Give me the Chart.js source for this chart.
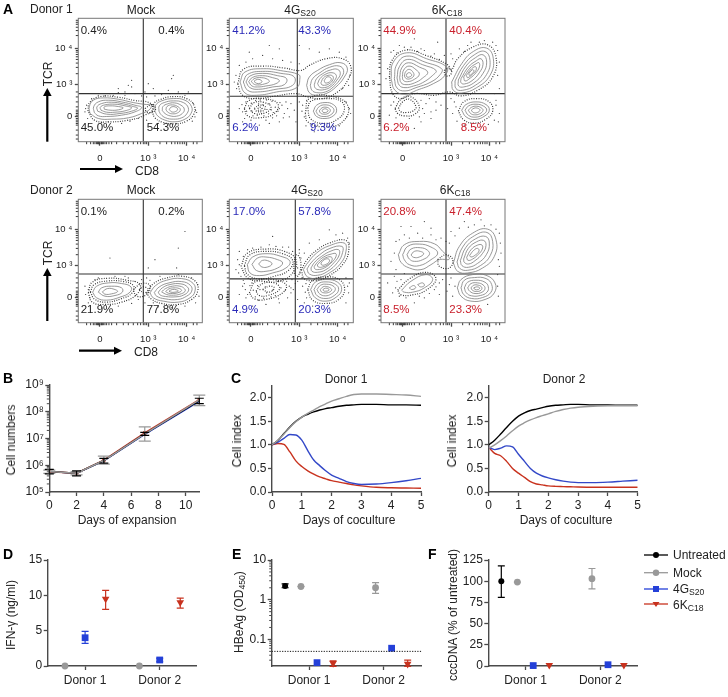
<!DOCTYPE html>
<html>
<head>
<meta charset="utf-8">
<style>
  body { margin: 0; background: #fff; }
  #page { position: relative; width: 728px; height: 697px; overflow: hidden; font-family: "Liberation Sans", Arial, sans-serif; color: #222; }
  #page canvas { position: absolute; }
  #page svg { position: absolute; left: 0; top: 0; }
  .t { position: absolute; white-space: nowrap; line-height: 1; }
  .t sub { font-size: 0.72em; vertical-align: -0.25em; line-height: 0; }
</style>
<script src="https://cdn.jsdelivr.net/npm/chart.js@4/dist/chart.umd.min.js"></script>
</head>
<body>
<div id="page"></div>
<script>
// ---------------------------
// DATA : panel B
// ---------------------------
const expansionDays = [0, 2, 4, 7, 11];
const expUntreated = [5.8e5, 5e5, 1.5e6, 1.5e7, 2.6e8];
const expMock = [5.8e5, 5e5, 1.5e6, 1.5e7, 2.8e8];
const exp4G = [5.8e5, 5e5, 1.45e6, 1.4e7, 2.4e8];
const exp6K = [5.8e5, 5e5, 1.55e6, 1.6e7, 2.8e8];
const expUntreatedLo = [4.8e5, 4e5, 1.2e6, 1.3e7, 2e8];
const expUntreatedHi = [7e5, 6.2e5, 1.8e6, 1.7e7, 3.2e8];
const expMockLo = [5e5, 4.4e5, 1.1e6, 8e6, 1.7e8];
const expMockHi = [6.6e5, 5.8e5, 2.2e6, 2.7e7, 4.2e8];
const expTickValues = [1e5, 1e6, 1e7, 1e8, 1e9];
const expTickLabels = ["10⁵", "10⁶", "10⁷", "10⁸", "10⁹"];
const logSteps = [2, 3, 4, 5, 6, 7, 8, 9];

// ---------------------------
// DATA : panel C
// ---------------------------
const cocultureDays = [0, .2, .4, .6, .8, 1, 1.2, 1.4, 1.6, 1.8, 2, 2.25, 2.5, 2.75, 3, 3.5, 4, 4.5, 5];
const d1Untreated = [1.0, 1.10, 1.24, 1.38, 1.50, 1.59, 1.65, 1.70, 1.74, 1.77, 1.79, 1.82, 1.84, 1.85, 1.86, 1.86, 1.85, 1.85, 1.84];
const d1Mock = [1.0, 1.10, 1.23, 1.37, 1.49, 1.59, 1.67, 1.74, 1.81, 1.87, 1.93, 1.98, 2.03, 2.07, 2.08, 2.08, 2.07, 2.06, 2.03];
const d14G = [1.0, 1.06, 1.14, 1.22, 1.21, 1.10, .88, .68, .56, .45, .36, .29, .22, .18, .16, .17, .20, .24, .29];
const d16K = [1.0, 1.03, 1.01, .85, .66, .54, .45, .38, .32, .28, .24, .21, .18, .15, .13, .10, .09, .085, .08];
const d2Untreated = [1.0, 1.10, 1.23, 1.37, 1.50, 1.61, 1.68, 1.73, 1.76, 1.79, 1.82, 1.84, 1.85, 1.86, 1.86, 1.85, 1.85, 1.84, 1.84];
const d2Mock = [.93, 1.00, 1.09, 1.19, 1.30, 1.40, 1.47, 1.53, 1.58, 1.62, 1.66, 1.71, 1.75, 1.78, 1.80, 1.82, 1.83, 1.83, 1.83];
const d24G = [.95, .90, .93, .98, .96, .80, .65, .50, .40, .34, .30, .26, .23, .21, .20, .20, .21, .23, .25];
const d26K = [.95, .82, .77, .65, .50, .40, .31, .22, .17, .15, .13, .12, .115, .11, .105, .10, .10, .10, .10];

// ---------------------------
// DATA : panels D, E, F
// ---------------------------
const donorTicks = [1.84, 5.51];
const donorLabels = ["Donor 1", "Donor 2"];

const ifnMockX = [.85, 4.51];
const ifn4GX = [1.84, 5.51];
const ifn6KX = [2.85, 6.52];
const ifnMock = [0, 0];
const ifn4G = [4.0, .85];
const ifn4GLo = [3.2, .6];
const ifn4GHi = [4.9, 1.1];
const ifn6K = [9.5, 9.0];
const ifn6KLo = [8.0, 8.2];
const ifn6KHi = [10.7, 9.6];

const hbeUntreatedX = [.66];
const hbeMockX = [1.44, 5.11];
const hbe4GX = [2.23, 5.9];
const hbe6KX = [3.02, 6.69];
const hbeUntreated = [2.2];
const hbeUntreatedLo = [2.0];
const hbeUntreatedHi = [2.5];
const hbeMock = [2.15, 2.0];
const hbeMockLo = [2.15, 1.45];
const hbeMockHi = [2.15, 2.7];
const hbe4G = [.026, .06];
const hbe6K = [.025, .024];
const hbe6KLo = [.021, .021];
const hbe6KHi = [.029, .030];
const hbeCutoff = .05;
const hbeTicks = [.1, 1, 10];
const hbeLabels = ["0.1", "1", "10"];
const hbeMinor = [.03, .04, .05, .06, .07, .08, .09, .2, .3, .4, .5, .6, .7, .8, .9, 2, 3, 4, 5, 6, 7, 8, 9];

const cccUntreatedX = [.64];
const cccMockX = [1.43, 5.1];
const ccc4GX = [2.21, 5.89];
const ccc6KX = [3.0, 6.67];
const cccUntreated = [100];
const cccUntreatedLo = [81];
const cccUntreatedHi = [118];
const cccMock = [99, 103];
const cccMockLo = [99, 91];
const cccMockHi = [99, 115];
const ccc4G = [.5, 1.5];
const ccc6K = [1, 1];

// ---------------------------
// DATA : panel A (flow plots, in channel units 0-372)
// ---------------------------
const flowXMinor = [25, 37, 45, 50, 55, 58, 60, 62, 68, 70, 72, 75, 80, 85, 92, 100, 115, 135, 150, 165, 178, 187, 195, 200, 205, 245, 265, 280, 290, 298, 305, 312, 318, 345, 356];
const flowYMinor = [8, 20, 35, 50, 55, 60, 65, 70, 80, 85, 90, 95, 105, 120, 135, 150, 205, 224, 237, 248, 256, 263, 270, 275, 320, 335, 345, 354, 360, 366];
const flowXTicks = [65, 210, 325];
const flowYTicks = [75, 173, 280];
const flowTickLabels = ["0", "10 ³", "10 ⁴"];

const mock1Gate = [195, 145];
const mock1Contours = [
  [35,85, 33,105, 45,125, 75,132, 120,128, 165,118, 205,112, 218,112, 215,98, 190,85, 150,72, 100,68, 60,70],
  [48,88, 46,105, 60,120, 90,125, 130,120, 170,110, 190,103, 170,90, 130,80, 85,76, 60,78],
  [58,92, 56,105, 70,115, 100,119, 135,114, 165,106, 178,101, 160,92, 125,85, 85,83],
  [68,95, 66,104, 80,111, 110,113, 140,108, 160,102, 140,93, 110,89, 85,89],
  [78,98, 78,105, 95,108, 120,106, 135,102, 120,96, 95,95],
  [230,92, 232,110, 250,123, 285,130, 320,125, 340,105, 338,85, 320,68, 290,60, 260,65, 238,78],
  [242,92, 243,108, 258,118, 285,123, 315,118, 330,102, 326,85, 310,72, 285,68, 262,72, 248,82],
  [252,94, 254,106, 268,114, 288,117, 308,110, 318,98, 312,85, 295,77, 275,78, 260,85],
  [263,96, 266,106, 282,111, 300,105, 306,96, 298,87, 283,84, 270,88],
  [273,97, 278,104, 290,105, 298,98, 292,91, 280,90]
];
const mock1Bands = [
  [29,92, 34,118, 65,136, 120,134, 170,124, 212,118, 226,100, 195,78, 145,64, 95,60, 50,64],
  [222,90, 226,114, 248,128, 285,136, 325,130, 348,108, 346,82, 325,62, 290,54, 255,58, 230,72],
  [200,100, 222,112, 232,100, 222,88, 205,90]
];
const mock1Dots = [140,150, 160,165, 120,148, 150,170, 170,145, 200,150, 210,175, 225,160, 280,190, 285,200, 270,155, 300,150, 320,140, 345,115, 352,95, 350,75, 20,90, 25,110, 28,70, 90,60, 130,55, 180,70, 205,65, 240,55, 300,50, 275,145, 160,185, 120,160, 60,140, 95,145, 40,130, 330,150, 190,138, 205,135, 230,138, 250,142, 105,140, 80,138, 140,140, 355,88, 342,62, 22,100, 70,58, 155,62];

const g41Gate = [204, 137];
const g41Contours = [
  [32,180, 47,210, 102,220, 162,213, 207,203, 212,193, 202,163, 142,150, 82,140, 47,147],
  [42,180, 55,203, 100,212, 155,206, 195,195, 190,170, 140,158, 85,150, 55,155],
  [50,180, 62,198, 100,206, 145,199, 172,190, 165,172, 130,165, 88,158, 62,163],
  [58,181, 70,194, 100,199, 130,193, 150,185, 140,175, 110,168, 85,165, 68,168],
  [66,182, 77,191, 97,193, 115,188, 120,181, 105,174, 85,171, 73,174],
  [74,182, 84,188, 94,186, 98,181, 92,176, 82,176],
  [232,170, 240,195, 265,215, 300,232, 335,238, 354,222, 345,195, 320,165, 290,145, 260,140, 240,148],
  [243,170, 250,190, 272,208, 300,224, 330,228, 343,214, 335,192, 312,165, 288,150, 262,148, 248,155],
  [255,172, 262,190, 280,205, 303,216, 325,218, 333,205, 323,186, 305,166, 285,157, 266,157, 257,163],
  [265,175, 272,190, 288,203, 308,208, 321,200, 316,185, 302,170, 285,163, 271,165],
  [275,178, 282,192, 296,200, 310,198, 311,187, 300,175, 286,170, 277,172],
  [285,185, 293,195, 304,193, 305,185, 296,178, 287,178],
  [252,92, 262,110, 287,118, 312,112, 322,95, 312,78, 287,70, 262,76],
  [260,92, 270,106, 287,111, 306,106, 314,94, 304,81, 287,76, 268,80],
  [270,93, 278,102, 290,104, 300,100, 303,93, 296,85, 284,83, 274,86],
  [278,94, 285,99, 294,97, 296,92, 288,88, 281,89]
];
const g41Bands = [
  [25,175, 42,218, 100,228, 165,222, 215,215, 240,230, 290,250, 340,250, 365,225, 355,185, 325,150, 280,130, 235,135, 200,145, 140,138, 80,130, 40,140],
  [45,100, 60,125, 100,130, 145,115, 135,85, 90,72, 55,78],
  [60,100, 75,118, 105,118, 125,105, 110,88, 75,85],
  [75,100, 90,110, 108,105, 100,92, 82,92],
  [85,100, 95,104, 98,97, 88,95],
  [235,100, 245,122, 290,130, 335,122, 345,95, 325,68, 285,55, 245,68],
  [228,85, 240,130, 300,138, 355,110, 340,60, 280,45, 235,60]
];
const g41Dots = [20,200, 22,160, 30,230, 15,180, 50,240, 70,250, 100,260, 130,250, 160,245, 185,240, 210,235, 60,270, 120,290, 210,290, 240,280, 270,270, 300,280, 330,270, 350,255, 362,200, 358,170, 340,160, 150,100, 165,85, 170,120, 180,75, 40,60, 30,100, 120,55, 90,50, 60,45, 200,60, 220,110, 225,75, 360,100, 352,75, 300,35, 255,30, 150,280, 50,120, 150,60,
  52,92, 58,108, 66,116, 68,92, 71,78, 79,124, 84,80, 88,114, 93,126, 97,85, 101,112, 104,78, 112,126, 113,97, 118,84, 120,114, 126,96, 128,122, 132,88, 138,104, 142,78, 146,92, 152,118, 158,110, 162,72, 40,90, 38,112, 46,70, 65,65, 110,65, 130,72, 175,100, 185,115, 195,95, 210,120, 218,92, 232,125, 230,48, 248,38, 265,50, 310,50, 330,48, 350,120, 364,85];

const k61Gate = [195, 145];
const k61Contours = [
  [30,190, 37,240, 77,268, 137,250, 197,225, 192,200, 157,175, 107,155, 72,143, 42,155],
  [40,190, 47,232, 77,258, 132,240, 182,220, 178,203, 150,180, 105,163, 72,153, 48,162],
  [48,192, 55,226, 80,248, 125,232, 165,215, 155,200, 125,178, 98,168, 72,163, 55,170],
  [56,194, 62,222, 82,238, 115,225, 140,210, 125,192, 100,177, 75,172, 60,178],
  [64,196, 68,216, 84,228, 105,217, 115,203, 100,188, 80,181, 67,185],
  [70,198, 74,211, 85,218, 97,208, 98,198, 88,190, 76,190],
  [76,200, 80,207, 88,207, 92,200, 85,195, 78,195],
  [212,180, 242,235, 277,272, 317,282, 337,250, 327,200, 287,163, 242,147, 217,155],
  [222,183, 248,230, 280,262, 312,272, 327,245, 317,203, 283,170, 245,155, 225,160],
  [232,186, 255,228, 283,253, 306,262, 317,240, 306,206, 278,177, 248,165, 233,168],
  [240,190, 262,225, 286,244, 300,250, 306,233, 295,208, 273,184, 250,174, 240,178],
  [248,195, 267,222, 285,235, 294,238, 295,225, 284,207, 268,192, 252,183],
  [256,200, 272,220, 284,226, 285,215, 274,203, 260,193],
  [264,206, 274,217, 279,213, 272,204, 265,200],
  [242,95, 255,112, 285,120, 315,112, 325,95, 312,78, 282,67, 255,75],
  [252,95, 263,108, 285,113, 308,107, 317,95, 305,81, 282,74, 262,80],
  [262,95, 272,104, 287,107, 301,102, 306,94, 296,84, 280,81, 269,85],
  [271,95, 279,101, 290,101, 297,95, 289,88, 277,88]
];
const k61Bands = [
  [25,195, 33,245, 75,276, 135,260, 200,232, 210,215, 230,250, 275,285, 320,292, 345,255, 335,195, 290,155, 240,138, 205,150, 160,140, 100,145, 60,130, 35,145],
  [52,100, 65,120, 85,128, 105,105, 95,92, 75,88, 60,90],
  [42,100, 60,128, 88,136, 115,105, 100,82, 70,78, 50,85],
  [232,92, 248,120, 285,130, 325,120, 335,92, 315,68, 280,56, 248,66],
  [190,215, 205,222, 212,210, 203,198, 192,202]
];
const k61Dots = [20,220, 15,190, 30,270, 55,290, 90,285, 130,275, 160,265, 190,260, 210,265, 235,280, 270,300, 310,305, 345,290, 355,240, 350,200, 355,160, 340,145, 125,100, 135,115, 150,90, 165,120, 30,110, 25,80, 120,60, 150,70, 60,55, 100,40, 200,100, 215,85, 220,120, 345,110, 355,85, 340,65, 300,45, 250,50, 170,300, 100,310,
  38,275, 48,268, 70,285, 80,278, 110,272, 120,280, 150,258, 175,248, 215,250, 250,272, 260,290, 295,300, 335,300, 350,275, 120,125, 145,130, 130,85, 115,75, 38,120, 45,72, 85,70, 165,95, 180,110, 210,130, 225,105, 345,125, 352,60, 322,52, 285,42, 228,62];

const mock2Gate = [195, 147];
const mock2Contours = [
  [43,92, 55,110, 90,120, 130,118, 158,108, 155,92, 125,77, 85,68, 55,75],
  [60,92, 70,105, 100,110, 130,105, 132,92, 110,82, 80,80],
  [72,93, 88,103, 110,100, 118,94, 100,87, 80,86],
  [215,90, 232,112, 265,128, 310,133, 345,118, 350,95, 335,75, 300,62, 255,65, 225,75],
  [228,91, 243,108, 272,120, 310,124, 337,112, 340,95, 325,80, 298,70, 260,72, 235,80],
  [240,92, 252,105, 275,115, 308,117, 328,107, 330,95, 315,83, 293,78, 262,79, 245,84],
  [250,93, 262,103, 282,110, 305,110, 319,102, 320,94, 305,86, 285,83, 265,85],
  [262,94, 272,102, 287,105, 303,103, 310,97, 298,90, 282,88, 270,89],
  [272,95, 282,100, 295,99, 300,95, 290,92, 278,92]
];
const mock2Bands = [
  [36,92, 48,115, 90,126, 135,124, 165,112, 162,90, 128,72, 85,62, 50,70],
  [30,90, 42,122, 90,134, 145,128, 185,115, 175,85, 130,62, 80,55, 42,62],
  [205,90, 226,118, 262,134, 312,140, 352,124, 358,95, 340,70, 300,55, 250,58, 218,72],
  [165,100, 190,118, 215,112, 205,85, 175,80],
  [182,100, 196,108, 210,100, 198,90]
];
const mock2Dots = [30,100, 22,85, 20,110, 50,130, 110,140, 150,135, 190,130, 245,140, 300,145, 340,135, 358,115, 362,80, 352,60, 320,50, 280,45, 240,48, 200,60, 160,58, 120,50, 70,45, 30,60, 95,195, 210,165, 230,190, 295,165, 320,275, 300,225, 170,125, 180,70, 205,135, 215,128, 225,60, 60,135, 35,75, 140,140];

const g42Gate = [198, 132];
const g42Contours = [
  [54,175, 70,198, 110,208, 155,200, 182,185, 170,165, 130,150, 90,142, 62,150],
  [68,176, 85,195, 110,198, 145,190, 160,180, 145,165, 110,155, 82,157],
  [88,177, 100,188, 120,185, 128,177, 115,168, 98,168],
  [222,160, 235,180, 262,210, 300,232, 345,240, 350,215, 335,180, 300,150, 265,135, 235,138],
  [233,162, 245,180, 270,204, 302,224, 338,230, 340,212, 325,182, 295,155, 265,143, 240,147],
  [245,165, 256,182, 277,200, 305,216, 328,220, 330,205, 315,182, 290,160, 265,152, 248,155],
  [255,170, 266,184, 283,198, 306,207, 320,208, 318,195, 305,180, 285,165, 265,160, 256,163],
  [264,174, 275,186, 290,196, 306,198, 308,188, 297,176, 280,168, 267,168],
  [275,180, 285,190, 298,192, 300,184, 288,175, 277,174],
  [244,100, 258,122, 290,130, 325,122, 337,100, 322,78, 290,65, 258,75],
  [254,100, 266,117, 290,123, 318,116, 328,100, 315,82, 290,73, 264,81],
  [263,100, 274,113, 291,116, 311,111, 318,100, 306,87, 288,81, 271,87],
  [273,100, 281,108, 292,109, 304,104, 307,98, 297,91, 284,90, 276,93],
  [281,100, 288,104, 298,102, 298,97, 289,95, 283,96]
];
const g42Bands = [
  [35,170, 55,210, 110,222, 165,215, 200,190, 190,150, 150,125, 100,125, 55,135],
  [45,172, 62,205, 110,215, 160,208, 190,188, 178,158, 135,140, 90,132, 55,145],
  [60,90, 80,125, 130,130, 170,115, 160,90, 110,70, 75,72],
  [80,95, 100,118, 140,118, 150,100, 115,82, 90,82],
  [100,100, 120,110, 135,105, 120,92],
  [195,190, 205,205, 215,175, 205,140, 195,150],
  [235,100, 250,128, 290,138, 330,130, 346,100, 328,70, 290,58, 250,68],
  [216,158, 232,188, 262,218, 300,240, 350,248, 358,215, 340,175, 300,142, 262,128, 226,132]
];
const g42Dots = [25,190, 20,160, 30,215, 35,140, 70,225, 120,235, 160,228, 190,215, 210,220, 225,210, 40,110, 50,75, 30,85, 70,50, 110,55, 150,60, 185,90, 205,70, 220,110, 225,60, 360,120, 358,90, 350,60, 300,45, 250,50, 360,240, 355,255, 320,265, 270,250, 240,240, 300,280, 340,270, 130,260, 185,105, 175,75,
  30,175, 28,150, 42,128, 45,118, 48,100, 55,85, 62,112, 68,120, 72,98, 78,78, 85,112, 88,68, 92,100, 98,130, 103,74, 108,108, 112,90, 118,128, 125,78, 130,98, 138,82, 145,125, 148,72, 155,105, 160,130, 168,98, 172,125, 180,110, 188,130, 192,100, 198,118, 205,125, 212,150, 218,135, 205,165, 215,195, 210,210, 178,228, 140,230, 95,228, 55,220, 42,200, 228,92, 232,75, 230,118, 350,135, 355,110];

const k62Gate = [195, 147];
const k62Contours = [
  [52,205, 70,235, 115,245, 160,238, 185,215, 205,192, 175,190, 150,175, 120,160, 85,165, 60,182],
  [65,205, 80,230, 115,237, 150,228, 170,210, 150,190, 115,172, 85,175, 70,190],
  [78,205, 90,222, 118,226, 140,218, 145,205, 125,190, 100,185, 85,192],
  [90,204, 100,215, 118,215, 128,208, 115,198, 98,197],
  [217,180, 235,230, 275,270, 320,282, 345,250, 340,200, 305,165, 260,150, 230,155],
  [228,183, 245,228, 280,262, 318,272, 335,245, 328,203, 298,172, 260,158, 236,164],
  [238,187, 254,226, 284,253, 314,260, 325,240, 316,205, 290,179, 262,167, 243,172],
  [248,192, 262,224, 287,244, 308,248, 315,233, 304,208, 282,187, 263,177, 250,182],
  [257,197, 270,220, 290,234, 303,234, 304,222, 292,206, 275,192, 261,188],
  [266,203, 278,218, 290,224, 294,216, 283,204, 270,198],
  [229,105, 240,130, 275,145, 315,143, 342,120, 340,90, 312,70, 270,65, 240,80],
  [240,105, 250,128, 280,136, 315,133, 332,115, 330,92, 305,76, 272,73, 248,85],
  [250,105, 260,122, 285,128, 312,122, 322,108, 318,92, 298,82, 272,81, 256,90],
  [260,105, 270,118, 290,120, 306,114, 312,103, 303,92, 282,88, 266,95],
  [270,105, 278,113, 292,113, 302,107, 300,98, 286,94, 274,98],
  [278,105, 287,108, 296,105, 292,100, 282,100],
  [62,98, 90,125, 135,145, 155,130, 130,105, 95,92, 70,92],
  [110,115, 125,120, 130,112, 118,108],
  [85,105, 98,112, 104,105, 92,100]
];
const k62Bands = [
  [50,98, 85,132, 135,152, 165,132, 135,98, 95,84, 60,84],
  [170,190, 195,205, 215,190, 205,165, 175,170]
];
const k62Dots = [40,210, 30,185, 45,245, 70,265, 110,270, 150,265, 180,255, 205,240, 210,275, 235,285, 280,295, 330,295, 355,270, 360,210, 355,170, 350,145, 20,120, 35,90, 40,140, 100,60, 130,75, 160,100, 175,85, 185,130, 205,115, 215,80, 350,110, 352,80, 320,55, 270,50, 130,305, 90,290, 150,285, 60,290, 250,305, 300,310,
  48,125, 60,130, 70,148, 45,160, 55,250, 85,255, 125,255, 165,250, 195,245, 222,262, 262,288, 310,292, 345,282, 358,240, 352,190, 165,108, 175,120, 145,88, 115,80, 75,75, 55,80, 44,105, 198,95, 210,135, 222,110];

// percent labels of panel A
const row1Labels = ["0.4%", "0.4%", "45.0%", "54.3%", "41.2%", "43.3%", "6.2%", "9.3%", "44.9%", "40.4%", "6.2%", "8.5%"];
const row2Labels = ["0.1%", "0.2%", "21.9%", "77.8%", "17.0%", "57.8%", "4.9%", "20.3%", "20.8%", "47.4%", "8.5%", "23.3%"];

// ---------------------------
// COLORS
// ---------------------------
const BLACK = "#000", GRAY = "#999", BLUE = "#2440d8", RED = "#c8321e";
const TXT_BLUE = "#2a2ab8", TXT_RED = "#c9202c";
const AXIS = "#4a4a4a";
const FONT = "'Liberation Sans', Arial, sans-serif";

const page = document.getElementById("page");

function label(html, x, y, opts) {
  opts = opts || {};
  const el = document.createElement("div");
  el.className = "t";
  el.innerHTML = html;
  el.style.left = x + "px";
  el.style.top = y + "px";
  el.style.fontSize = (opts.size || 12) + "px";
  if (opts.color) el.style.color = opts.color;
  if (opts.bold) el.style.fontWeight = "bold";
  let tr = opts.center ? "translate(-50%,-50%)" : "translateY(-50%)";
  if (opts.rotate) tr = "translate(-50%,-50%) rotate(-90deg)";
  el.style.transform = tr;
  page.appendChild(el);
}

// plugin : minor ticks + error bars + frame, everything through the scales
const marksPlugin = {
  id: "marks",
  afterDatasetsDraw(chart, args, opts) {
    const ctx = chart.ctx, a = chart.chartArea;
    const sx = chart.scales.x, sy = chart.scales.y;
    ctx.save();
    chart.data.datasets.forEach(ds => {
      if (!ds.errLo) return;
      ctx.strokeStyle = ds.errColor || ds.borderColor;
      ctx.lineWidth = ds.errWidth || 1.2;
      ds.data.forEach((p, i) => {
        const x = sx.getPixelForValue(p.x);
        const lo = sy.getPixelForValue(ds.errLo[i]), hi = sy.getPixelForValue(ds.errHi[i]);
        const c = ds.errCap || 4;
        ctx.beginPath();
        ctx.moveTo(x, lo); ctx.lineTo(x, hi);
        ctx.moveTo(x - c, lo); ctx.lineTo(x + c, lo);
        ctx.moveTo(x - c, hi); ctx.lineTo(x + c, hi);
        ctx.stroke();
      });
    });
    ctx.strokeStyle = opts.color || AXIS;
    ctx.lineWidth = opts.minorWidth || 1;
    const len = opts.len || 2.5;
    (opts.y || []).forEach(v => {
      const y = sy.getPixelForValue(v);
      ctx.beginPath(); ctx.moveTo(a.left - len, y); ctx.lineTo(a.left, y); ctx.stroke();
    });
    (opts.x || []).forEach(v => {
      const x = sx.getPixelForValue(v);
      ctx.beginPath(); ctx.moveTo(x, a.bottom + len); ctx.lineTo(x, a.bottom); ctx.stroke();
    });
    if (opts.frame) {
      ctx.strokeStyle = "#777";
      ctx.lineWidth = 1;
      ctx.strokeRect(a.left, a.top, a.right - a.left, a.bottom - a.top);
    }
    ctx.restore();
  }
};

// chart whose plot area lands on a given box
function makeChart(box, datasets, xScale, yScale, marks) {
  const mL = 46, mR = 22, mT = 12, mB = 32;
  const left = Math.round(box.l), top = Math.round(box.t);
  const w = box.r - box.l, h = box.b - box.t;
  const canvas = document.createElement("canvas");
  canvas.width = Math.ceil(w) + mL + mR + 1;
  canvas.height = Math.ceil(h) + mT + mB + 1;
  canvas.style.left = (left - mL) + "px";
  canvas.style.top = (top - mT) + "px";
  page.appendChild(canvas);
  const fracL = box.l - left, fracT = box.t - top;
  xScale.afterFit = s => { s.height = canvas.height - mT - fracT - h; };
  yScale.afterFit = s => { s.width = mL + fracL; };
  return new Chart(canvas, {
    type: "scatter",
    data: { datasets },
    options: {
      responsive: false,
      animation: false,
      devicePixelRatio: 1,
      layout: { padding: { left: 0, top: mT + fracT, right: canvas.width - mL - fracL - w, bottom: 0 } },
      plugins: { legend: { display: false }, tooltip: { enabled: false }, marks: marks || {} },
      scales: { x: xScale, y: yScale }
    },
    plugins: [marksPlugin]
  });
}

function axisStyle(size, tickLen, pad, color) {
  return {
    grid: { display: true, drawOnChartArea: false, tickLength: tickLen, tickColor: color || AXIS, tickWidth: 1.3 },
    border: { color: color || AXIS, width: 1.4 },
    ticks: { font: { family: FONT, size }, color: "#222", padding: pad, autoSkip: false, maxRotation: 0 }
  };
}

function fixedTicks(scale, values, labels) {
  scale.afterBuildTicks = s => { s.ticks = values.map(v => ({ value: v })); };
  scale.ticks.callback = v => {
    const i = values.findIndex(t => Math.abs(t - v) < 1e-9 * Math.max(1, Math.abs(t)));
    return i < 0 ? "" : labels[i];
  };
  return scale;
}

function pts(xs, ys) { return ys.map((y, i) => ({ x: xs[i], y })); }

function loop(flat) {
  const out = [];
  for (let i = 0; i < flat.length; i += 2) out.push({ x: flat[i], y: flat[i + 1] });
  out.push({ x: flat[0], y: flat[1] });
  return out;
}

function dotsOf(flat) { return loop(flat).slice(0, -1); }

// ---------------------------
// PANEL A
// ---------------------------
function flowPlot(box, gate, contours, bands, dots) {
  const datasets = [];
  datasets.push({ data: dotsOf(dots), pointRadius: .6, pointBackgroundColor: "#333", pointBorderWidth: 0 });
  bands.forEach(b => datasets.push({
    data: loop(b), showLine: true, tension: .45, pointRadius: 0,
    borderColor: "#2f2f2f", borderWidth: 1.2, borderDash: [.9, 1.5]
  }));
  contours.forEach(c => datasets.push({
    data: loop(c), showLine: true, tension: .45, pointRadius: 0,
    borderColor: "#7d7d7d", borderWidth: .8
  }));
  datasets.push({ data: [{ x: gate[0], y: 0 }, { x: gate[0], y: 372 }], showLine: true, pointRadius: 0, borderColor: "#333", borderWidth: 1.1 });
  datasets.push({ data: [{ x: 0, y: gate[1] }, { x: 372, y: gate[1] }], showLine: true, pointRadius: 0, borderColor: "#333", borderWidth: 1.1 });

  const xs = fixedTicks(Object.assign({ type: "linear", min: 0, max: 372 }, axisStyle(9.5, 4, 6.5)), flowXTicks, flowTickLabels);
  const ys = fixedTicks(Object.assign({ type: "linear", min: 0, max: 372 }, axisStyle(9.5, 3.5, 2.5)), flowYTicks, flowTickLabels);
  xs.border.display = false;
  ys.border.display = false;
  makeChart(box, datasets, xs, ys, { x: flowXMinor, y: flowYMinor, len: 2.5, frame: true, color: "#333" });
}

const rowTops = [18.3, 199.3];
const colLefts = [78.3, 229.3, 381];
const flowW = 124, flowH = 123.4;

function flowBox(col, row) {
  return { l: colLefts[col], r: colLefts[col] + flowW, t: rowTops[row], b: rowTops[row] + flowH };
}

flowPlot(flowBox(0, 0), mock1Gate, mock1Contours, mock1Bands, mock1Dots);
flowPlot(flowBox(1, 0), g41Gate, g41Contours, g41Bands, g41Dots);
flowPlot(flowBox(2, 0), k61Gate, k61Contours, k61Bands, k61Dots);
flowPlot(flowBox(0, 1), mock2Gate, mock2Contours, mock2Bands, mock2Dots);
flowPlot(flowBox(1, 1), g42Gate, g42Contours, g42Bands, g42Dots);
flowPlot(flowBox(2, 1), k62Gate, k62Contours, k62Bands, k62Dots);

const pctX1 = [80.7, 158.3, 80.7, 146.7, 232.3, 298.3, 232.3, 310, 383.3, 449.3, 383.3, 460.7];
const pctX2 = [80.7, 158.3, 80.7, 146.7, 232.7, 298.3, 232, 298.3, 383.3, 449.3, 383.3, 449.3];
const pctColors = [null, null, null, null, TXT_BLUE, TXT_BLUE, TXT_BLUE, TXT_BLUE, TXT_RED, TXT_RED, TXT_RED, TXT_RED];
row1Labels.forEach((t, i) => label(t, pctX1[i], i % 4 < 2 ? 31 : 128, { size: 11.5, color: pctColors[i] }));
row2Labels.forEach((t, i) => label(t, pctX2[i], i % 4 < 2 ? 212.3 : 310, { size: 11.5, color: pctColors[i] }));

label("Donor 1", 30, 9, { size: 12 });
label("Donor 2", 30, 190, { size: 12 });
label("Mock", 141, 9.5, { size: 12, center: true });
label("Mock", 141, 190, { size: 12, center: true });
label("4G<sub>S20</sub>", 300, 9.5, { size: 12, center: true });
label("6K<sub>C18</sub>", 447, 9.5, { size: 12, center: true });
label("4G<sub>S20</sub>", 307, 190, { size: 12, center: true });
label("6K<sub>C18</sub>", 455, 190, { size: 12, center: true });
label("TCR", 48, 74, { size: 12, rotate: true });
label("TCR", 48, 253, { size: 12, rotate: true });
label("CD8", 135, 170.5, { size: 12 });
label("CD8", 134, 352, { size: 12 });

// ---------------------------
// PANEL B
// ---------------------------
const bMinor = [1e5, 1e6, 1e7, 1e8].flatMap(d => logSteps.map(k => k * d));
const bX = Object.assign({ type: "linear", min: 0, max: 11 }, axisStyle(12, 4, 2.5));
bX.afterBuildTicks = s => { s.ticks = [0, 2, 4, 6, 8, 10].map(v => ({ value: v })); };
makeChart({ l: 49.3, r: 199.3, t: 385, b: 492 }, [
  { data: pts(expansionDays, expMock), showLine: true, borderColor: GRAY, borderWidth: 1.5, pointRadius: 0, errLo: expMockLo, errHi: expMockHi, errColor: GRAY, errCap: 6 },
  { data: pts(expansionDays, expUntreated), showLine: true, borderColor: BLACK, borderWidth: 1.5, pointRadius: 0 },
  { data: pts(expansionDays, exp6K), showLine: true, borderColor: RED, borderWidth: 1.6, pointStyle: "rect", pointRadius: 2.4, pointBackgroundColor: RED, pointBorderWidth: 0 },
  { data: pts(expansionDays, exp4G), showLine: true, borderColor: BLUE, borderWidth: 1.2, pointRadius: 0 },
  { data: pts(expansionDays, expUntreated), pointRadius: 0, errLo: expUntreatedLo, errHi: expUntreatedHi, errColor: BLACK, errCap: 4.5, borderColor: BLACK }
], bX, fixedTicks(Object.assign({ type: "logarithmic", min: 1e5, max: 1e9 }, axisStyle(12, 4, 1.5)), expTickValues, expTickLabels),
  { y: bMinor, len: 2.5 });
label("Cell numbers", 11, 440, { size: 12, rotate: true });
label("Days of expansion", 127, 520, { size: 12, center: true });

// ---------------------------
// PANEL C
// ---------------------------
function killing(box, black, gray, blue, red) {
  const x = Object.assign({ type: "linear", min: 0, max: 5 }, axisStyle(12, 4, 2.5));
  const y = fixedTicks(Object.assign({ type: "linear", min: 0, max: 2.25 }, axisStyle(12, 4, 1.5)), [0, .5, 1, 1.5, 2], ["0.0", "0.5", "1.0", "1.5", "2.0"]);
  x.afterBuildTicks = s => { s.ticks = [0, 1, 2, 3, 4, 5].map(v => ({ value: v })); };
  const line = (v, c) => ({ data: pts(cocultureDays, v), showLine: true, borderColor: c, borderWidth: 1.4, pointRadius: 0, tension: .4, cubicInterpolationMode: "monotone" });
  makeChart(box, [line(gray, GRAY), line(black, BLACK), line(blue, "#3348c8"), line(red, RED)], x, y, {});
}
killing({ l: 272, r: 421, t: 386, b: 492 }, d1Untreated, d1Mock, d14G, d16K);
killing({ l: 488.7, r: 637.7, t: 386, b: 492 }, d2Untreated, d2Mock, d24G, d26K);
label("Donor 1", 346, 379, { size: 12, center: true });
label("Donor 2", 564, 379, { size: 12, center: true });
label("Cell index", 237, 441, { size: 12, rotate: true });
label("Cell index", 452, 441, { size: 12, rotate: true });
label("Days of coculture", 349, 520, { size: 12, center: true });
label("Days of coculture", 566, 520, { size: 12, center: true });

// ---------------------------
// PANELS D, E, F
// ---------------------------
function circle(xs, ys, lo, hi) {
  const d = { data: pts(xs, ys), clip: false, pointStyle: "circle", pointRadius: 3.4, pointBackgroundColor: GRAY, pointBorderWidth: 0, borderColor: GRAY };
  if (lo) { d.errLo = lo; d.errHi = hi; d.errCap = 3.5; }
  return d;
}
function blackDot(xs, ys, lo, hi) {
  return { data: pts(xs, ys), clip: false, pointStyle: "circle", pointRadius: 3, pointBackgroundColor: BLACK, pointBorderWidth: 0, borderColor: BLACK, errLo: lo, errHi: hi, errCap: 3.5 };
}
function square(xs, ys, lo, hi) {
  const d = { data: pts(xs, ys), clip: false, pointStyle: "rect", pointRadius: 4.8, pointBackgroundColor: BLUE, pointBorderWidth: 0, borderColor: BLUE };
  if (lo) { d.errLo = lo; d.errHi = hi; d.errCap = 3.5; }
  return d;
}
function tri(xs, ys, lo, hi) {
  const d = { data: pts(xs, ys), clip: false, pointStyle: "triangle", pointRadius: 4.4, pointRotation: 180, pointBackgroundColor: RED, pointBorderWidth: 0, borderColor: RED };
  if (lo) { d.errLo = lo; d.errHi = hi; d.errCap = 3.5; }
  return d;
}
function donorX(max) {
  return fixedTicks(Object.assign({ type: "linear", min: 0, max }, axisStyle(12, 4, 3.5)), donorTicks, donorLabels);
}

makeChart({ l: 47.7, r: 196.7, t: 560, b: 666 }, [
  circle(ifnMockX, ifnMock),
  square(ifn4GX, ifn4G, ifn4GLo, ifn4GHi),
  tri(ifn6KX, ifn6K, ifn6KLo, ifn6KHi)
], donorX(7.33), fixedTicks(Object.assign({ type: "linear", min: 0, max: 15 }, axisStyle(12, 4, 1.5)), [0, 5, 10, 15], ["0", "5", "10", "15"]), {});
label("IFN-γ (ng/ml)", 11, 615, { size: 12, rotate: true });

const cutoffX = [0, 7.38];
makeChart({ l: 271.7, r: 421.7, t: 560, b: 666 }, [
  { data: [{ x: cutoffX[0], y: hbeCutoff }, { x: cutoffX[1], y: hbeCutoff }], showLine: true, pointRadius: 0, borderColor: "#111", borderWidth: 1, borderDash: [1.2, 1.4] },
  blackDot(hbeUntreatedX, hbeUntreated, hbeUntreatedLo, hbeUntreatedHi),
  circle(hbeMockX, hbeMock, hbeMockLo, hbeMockHi),
  square(hbe4GX, hbe4G),
  tri(hbe6KX, hbe6K, hbe6KLo, hbe6KHi)
], donorX(7.38), fixedTicks(Object.assign({ type: "logarithmic", min: .0214, max: 10 }, axisStyle(12, 4, 1.5)), hbeTicks, hbeLabels),
  { y: hbeMinor, len: 2.5 });
label("HBeAg (OD<sub>450</sub>)", 239, 612, { size: 12, rotate: true });

makeChart({ l: 488.3, r: 637.7, t: 560, b: 666 }, [
  blackDot(cccUntreatedX, cccUntreated, cccUntreatedLo, cccUntreatedHi),
  circle(cccMockX, cccMock, cccMockLo, cccMockHi),
  square(ccc4GX, ccc4G),
  tri(ccc6KX, ccc6K)
], donorX(7.35), fixedTicks(Object.assign({ type: "linear", min: 0, max: 125 }, axisStyle(12, 4, 1.5)), [0, 25, 50, 75, 100, 125], ["0", "25", "50", "75", "100", "125"]), {});
label("cccDNA (% of untreated)", 453, 615, { size: 12, rotate: true });

// ---------------------------
// PANEL LETTERS, LEGEND, ARROWS
// ---------------------------
label("A", 3, 9, { size: 14, bold: true, color: "#000" });
label("B", 3, 378, { size: 14, bold: true, color: "#000" });
label("C", 231, 378, { size: 14, bold: true, color: "#000" });
label("D", 3, 554, { size: 14, bold: true, color: "#000" });
label("E", 232, 554, { size: 14, bold: true, color: "#000" });
label("F", 428, 554, { size: 14, bold: true, color: "#000" });

label("Untreated", 673, 555, { size: 12 });
label("Mock", 673, 572.7, { size: 12 });
label("4G<sub>S20</sub>", 673, 589, { size: 12 });
label("6K<sub>C18</sub>", 673, 604.5, { size: 12 });

const svgNs = "http://www.w3.org/2000/svg";
const svg = document.createElementNS(svgNs, "svg");
svg.setAttribute("width", 728);
svg.setAttribute("height", 697);
svg.innerHTML = `
  <g stroke="#000" stroke-width="2.2"><line x1="47.3" y1="141.7" x2="47.3" y2="95"/><line x1="47.3" y1="321" x2="47.3" y2="275"/>
  <line x1="80" y1="169" x2="117" y2="169"/><line x1="79" y1="350.7" x2="116" y2="350.7"/></g>
  <g fill="#000"><path d="M47.3 88 L43 96 L51.6 96 Z"/><path d="M47.3 268 L43 276 L51.6 276 Z"/>
  <path d="M123 169 L115 165 L115 173 Z"/><path d="M122 350.7 L114 346.7 L114 354.7 Z"/></g>
  <line x1="644" y1="555" x2="668" y2="555" stroke="${BLACK}" stroke-width="1.3"/><circle cx="656" cy="555" r="3" fill="${BLACK}"/>
  <line x1="644" y1="572.7" x2="668" y2="572.7" stroke="${GRAY}" stroke-width="1.3"/><circle cx="656" cy="572.7" r="3.2" fill="${GRAY}"/>
  <line x1="644" y1="589" x2="668" y2="589" stroke="${BLUE}" stroke-width="1.3"/><rect x="653" y="586" width="6" height="6" fill="${BLUE}"/>
  <line x1="644" y1="604" x2="668" y2="604" stroke="${RED}" stroke-width="1.3"/><path d="M652.5 602 L659.5 602 L656 607 Z" fill="${RED}"/>`;
page.appendChild(svg);
</script>
</body>
</html>
